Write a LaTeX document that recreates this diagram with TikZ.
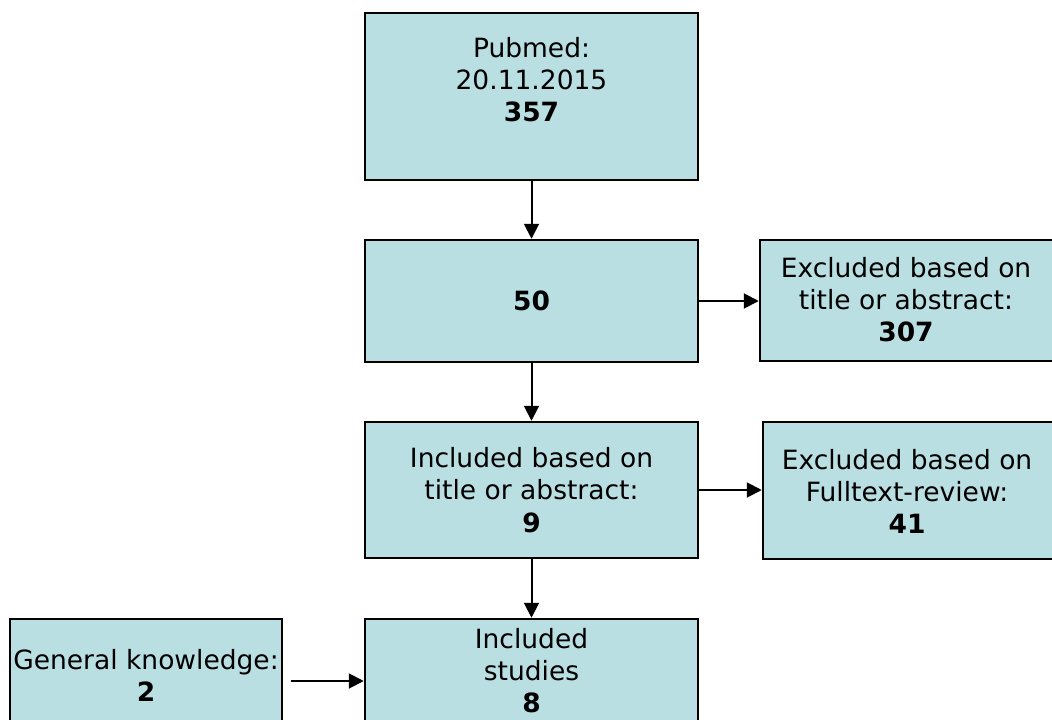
\documentclass[tikz,border=0pt]{standalone}
\usepackage{fontspec}
\setmainfont{DejaVu Sans}
\usetikzlibrary{arrows.meta}
\definecolor{boxfill}{RGB}{185,223,227}
\begin{document}
\begin{tikzpicture}[x=1pt,y=-1pt,
  box/.style={draw=black, line width=2.5pt, fill=boxfill, inner sep=0pt, align=center, font=\fontsize{26.5}{32.5}\selectfont},
  txt/.style={align=center, font=\fontsize{26.5}{32}\selectfont, inner sep=0pt},
  arr/.style={line width=2pt, -{Triangle[length=15pt,width=15pt]}}]
\useasboundingbox (0,0) rectangle (1052,720);
\clip (0,0) rectangle (1052,720);
\node[box, minimum width=333pt, minimum height=167pt] (b1) at (531.5,96.5) {};
\node[txt] (t1) at (531.5,80) {Pubmed:\\20.11.2015\\\textbf{357}};
\node[box, minimum width=333pt, minimum height=122pt] (b2) at (531.5,301) {\textbf{50}};
\node[box, minimum width=333pt, minimum height=136pt] (b3) at (531.5,490) {Included based on\\title or abstract:\\\textbf{9}};
\node[box, minimum width=333pt, minimum height=124pt] (b4) at (531.5,681) {};
\node[txt] (t4) at (531.5,671) {Included\\studies\\\textbf{8}};
\node[box, minimum width=300pt, minimum height=121pt] (e1) at (910,300.5) {};
\node[txt] (te1) at (906,300) {Excluded based on\\title or abstract:\\\textbf{307}};
\node[box, minimum width=297pt, minimum height=137pt] (e2) at (911.5,490.5) {};
\node[txt] (te2) at (907,491) {Excluded based on\\Fulltext-review:\\\textbf{41}};
\node[box, minimum width=272pt, minimum height=124pt] (gk) at (146,681) {};
\node[txt] (tgk) at (146,675) {General knowledge:\\\textbf{2}};
\draw[arr] (b1) -- (b2);
\draw[arr] (b2) -- (b3);
\draw[arr] (b3) -- (b4);
\draw[arr] (b2.east) -- (b2.east -| e1.west);
\draw[arr] (b3.east) -- (b3.east -| e2.west);
\draw[arr, shorten <=8pt] (gk.east) -- (b4.west);
\end{tikzpicture}
\end{document}
